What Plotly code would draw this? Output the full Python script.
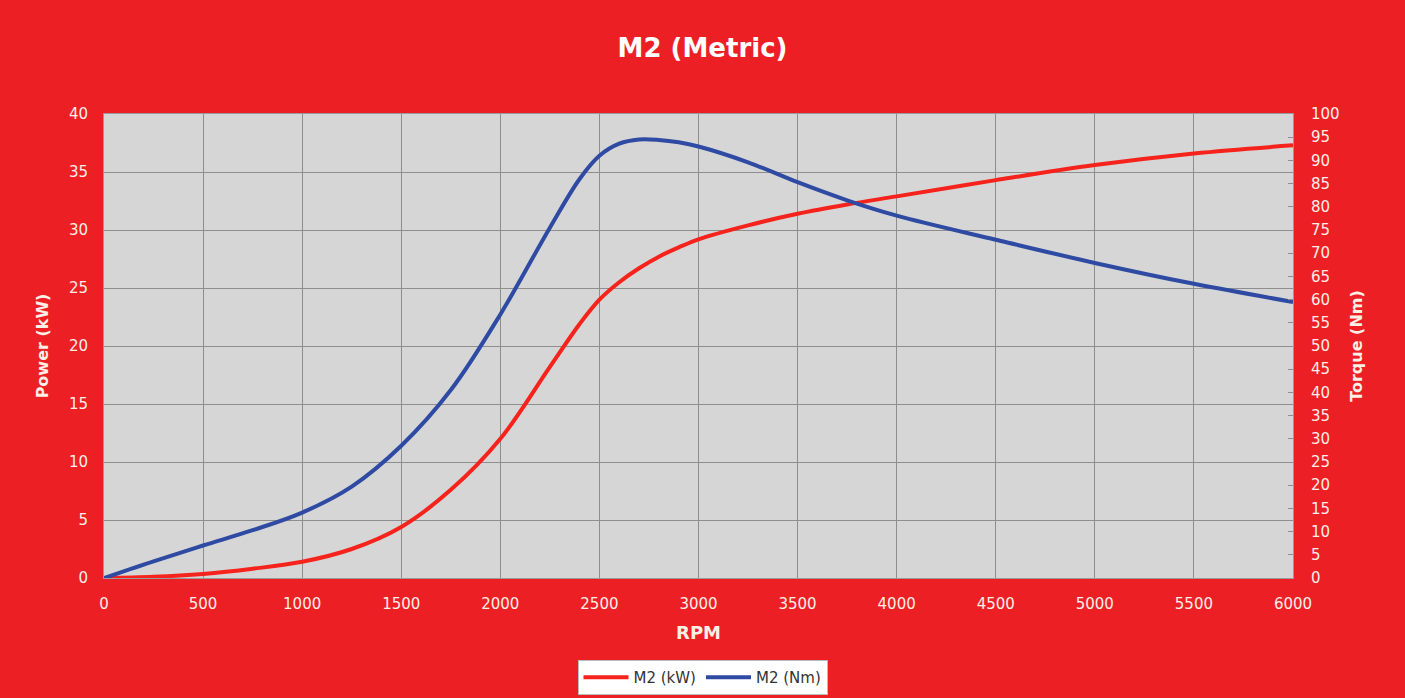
import plotly.graph_objects as go

rpm = [0, 250, 500, 750, 1000, 1250, 1500, 1750, 2000, 2250, 2400, 2500, 2600, 2700, 2800,
       2900, 3000, 3250, 3500, 3750, 4000, 4500, 5000, 5500, 6000]
power_kw = [0, 0.1, 0.35, 0.8, 1.4, 2.5, 4.4, 7.6, 12.0, 18.2, 21.9, 24.0, 25.5, 26.7, 27.7,
            28.5, 29.2, 30.4, 31.4, 32.2, 32.9, 34.3, 35.6, 36.6, 37.3]
torque_nm = [0, 3.6, 7.0, 10.3, 14.1, 19.7, 28.5, 40.5, 56.8, 75.5, 86.0, 91.0, 93.6, 94.5, 94.4,
             93.9, 93.0, 89.6, 85.3, 81.4, 78.1, 72.9, 67.9, 63.4, 59.5]

x_ticks = list(range(0, 6001, 500))
y1_ticks = list(range(0, 41, 5))
y2_ticks = list(range(0, 101, 5))

BG = "#EC1F25"
TXT = "#FBEFE6"
FONT = "DejaVu Sans, Liberation Sans, Arial, sans-serif"

fig = go.Figure()
fig.add_trace(go.Scatter(x=rpm, y=power_kw, name="M2 (kW)", mode="lines",
                         line=dict(color="#F5231B", width=4, shape="spline", smoothing=1.0),
                         yaxis="y"))
fig.add_trace(go.Scatter(x=rpm, y=torque_nm, name="M2 (Nm)", mode="lines",
                         line=dict(color="#2E4AA3", width=4, shape="spline", smoothing=1.0),
                         yaxis="y2"))

fig.update_layout(
    width=1405, height=698,
    paper_bgcolor=BG, plot_bgcolor="#D6D6D6",
    margin=dict(l=104, r=112, t=114, b=120, autoexpand=False),
    font=dict(family=FONT, color=TXT, size=15),
    title=dict(text="<b>M2 (Metric)</b>", x=0.5, xanchor="center",
               yref="container", y=1 - 48 / 698, yanchor="middle",
               font=dict(size=26, color="#FFFFFF", family=FONT)),
    xaxis=dict(range=[0, 6000], tickvals=x_ticks, showgrid=True, gridcolor="#8E8E8E",
               gridwidth=1, zeroline=False, showline=True, linecolor="#9A9A9A", mirror=True,
               tickfont=dict(size=15, color=TXT), ticklabelstandoff=12, automargin=False,
               title=dict(text="<b>RPM</b>", font=dict(size=18, color=TXT), standoff=14)),
    yaxis=dict(range=[0, 40], tickvals=y1_ticks, showgrid=True, gridcolor="#8E8E8E",
               gridwidth=1, zeroline=False, showline=True, linecolor="#9A9A9A",
               tickfont=dict(size=15, color=TXT), ticklabelstandoff=12, automargin=False,
               title=dict(text="<b>Power (kW)</b>", font=dict(size=16, color=TXT), standoff=16)),
    yaxis2=dict(range=[0, 100], tickvals=y2_ticks, overlaying="y", side="right",
                showgrid=False, zeroline=False, showline=True, linecolor="#9A9A9A",
                ticks="inside", ticklen=5, tickcolor="#8E8E8E", automargin=False,
                tickfont=dict(size=15, color=TXT), ticklabelstandoff=14,
                title=dict(text="<b>Torque (Nm)</b>", font=dict(size=16, color=TXT), standoff=12)),
    legend=dict(orientation="h", x=0.5, xanchor="center", xref="container",
                yref="container", y=1 - 660 / 698, yanchor="top",
                bgcolor="#FFFFFF", bordercolor="#BBBBBB", borderwidth=1,
                font=dict(size=15, color="#333333", family=FONT), itemwidth=45,
                tracegroupgap=0),
    showlegend=True,
)

fig.write_html("out.html", config={"displayModeBar": False},
               post_script="document.body.style.margin='0';document.body.style.background='#EC1F25';")
